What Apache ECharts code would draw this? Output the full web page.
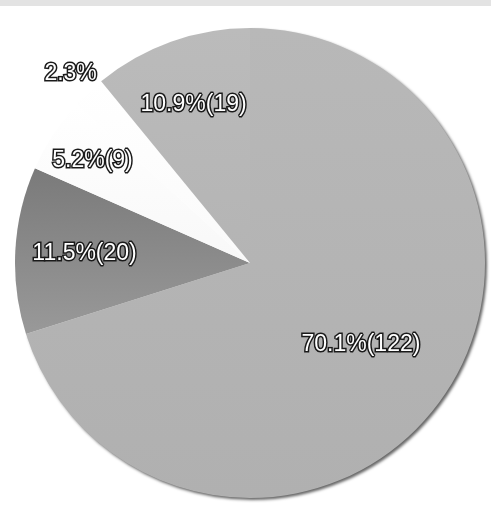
<!DOCTYPE html>
<html>
<head>
<meta charset="utf-8">
<script src="https://cdn.jsdelivr.net/npm/echarts@6/dist/echarts.min.js"></script>
<style>
  html, body { margin: 0; padding: 0; background: #ffffff; }
  #chart { width: 491px; height: 508px; }
</style>
</head>
<body>
<div id="chart"></div>
<script>
// Slice data, clockwise from 12 o'clock
const categories = ['Group A', 'Group B', 'Group C', 'Group D', 'Group E'];
const counts = [122, 20, 9, 4, 19];
// whether the label also shows the raw count in brackets
const showCount = [true, true, true, false, true];

// Styling (kept apart from the data)
const sliceColors = [
  ['#b8b8b8', '#b0b0b0'],
  ['#7a7a7a', '#999999'],
  ['#ffffff', '#f8f8f8'],
  ['#ffffff', '#fafafa'],
  ['#bbbbbb', '#b4b4b4']
];
// the large slice carries the dark rim along the lower right edge
const sliceShadow = [true, false, false, false, false];
// label distance from centre as a fraction of the radius
const labelRadius = [0.585, 0.705, 0.80, 1.11, 0.714];

const total = counts.reduce((a, b) => a + b, 0);
const chart = echarts.init(document.getElementById('chart'), null, { renderer: 'canvas' });

const seriesData = categories.map((name, i) => ({
  name: name,
  value: counts[i],
  itemStyle: {
    color: {
      type: 'linear', x: 0, y: 0, x2: 0, y2: 1,
      colorStops: [
        { offset: 0, color: sliceColors[i][0] },
        { offset: 1, color: sliceColors[i][1] }
      ]
    },
    shadowColor: sliceShadow[i] ? 'rgba(0,0,0,0.6)' : 'rgba(0,0,0,0)',
    shadowBlur: sliceShadow[i] ? 3 : 0,
    shadowOffsetX: sliceShadow[i] ? 2 : 0,
    shadowOffsetY: sliceShadow[i] ? 2 : 0
  }
}));

chart.setOption({
  backgroundColor: '#ffffff',
  animation: false,
  graphic: [{
    type: 'rect',
    left: 0, top: 0,
    shape: { width: 491, height: 6 },
    style: { fill: '#e3e3e3' }
  }],
  series: [{
    type: 'pie',
    center: [250, 263],
    radius: 235,
    startAngle: 90,
    clockwise: true,
    avoidLabelOverlap: false,
    itemStyle: { borderWidth: 0 },
    emphasis: { disabled: true },
    label: {
      show: true,
      position: 'outside',
      overflow: 'none',
      fontFamily: 'Liberation Sans, Arial, sans-serif',
      fontSize: 23,
      color: '#ffffff',
      textBorderColor: '#1a1a1a',
      textBorderWidth: 3,
      formatter: function (p) {
        const pct = (counts[p.dataIndex] / total * 100).toFixed(1) + '%';
        return showCount[p.dataIndex] ? pct + '(' + counts[p.dataIndex] + ')' : pct;
      }
    },
    labelLine: { show: false },
    labelLayout: function (p) {
      const lay = chart.getModel().getSeriesByIndex(0).getData().getItemLayout(p.dataIndex);
      const mid = (lay.startAngle + lay.endAngle) / 2;
      const rr = lay.r * labelRadius[p.dataIndex];
      return {
        x: lay.cx + Math.cos(mid) * rr,
        y: lay.cy + Math.sin(mid) * rr,
        align: 'center',
        verticalAlign: 'middle'
      };
    },
    data: seriesData
  }]
});
</script>
</body>
</html>
